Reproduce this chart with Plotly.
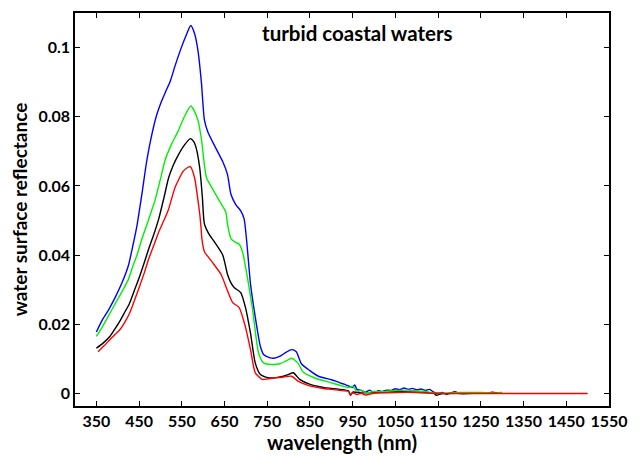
import plotly.graph_objects as go

# ---- data ----
blue_wl = [350, 365, 380, 395, 410, 425, 435, 445, 457, 467, 477, 490, 503, 513, 523, 535, 548, 560, 571,
           580, 588, 596, 603, 611, 626, 646, 657, 665, 676, 688, 696, 711, 722, 734, 742, 755, 765, 780,
           795, 807, 818, 830, 849, 870, 900, 910, 920, 930, 940, 950, 955, 960, 970, 980, 990, 1000, 1010,
           1020, 1030, 1040, 1050, 1060, 1070, 1080, 1090, 1100, 1110, 1120, 1130, 1140, 1150, 1160, 1170,
           1180, 1190, 1200, 1250, 1300]
blue_r = [0.0178, 0.0215, 0.0245, 0.0280, 0.0320, 0.0370, 0.0425, 0.0485, 0.0580, 0.0665, 0.0732, 0.0800,
          0.0846, 0.0875, 0.0903, 0.0950, 0.0997, 0.1035, 0.1064, 0.1040, 0.0990, 0.0898, 0.0790, 0.0756,
          0.0718, 0.0670, 0.0633, 0.0576, 0.0547, 0.0528, 0.0504, 0.0315, 0.0221, 0.0136, 0.0112, 0.0104,
          0.0102, 0.0108, 0.0120, 0.0127, 0.0121, 0.0086, 0.0067, 0.0050, 0.0040, 0.0036, 0.0031, 0.0027,
          0.0022, 0.0018, 0.0025, 0.0012, 0.0009, 0.0004, 0.0010, 0.0002, 0.0008, 0.0006, 0.0010, 0.0009,
          0.0014, 0.0011, 0.0016, 0.0012, 0.0015, 0.0011, 0.0013, 0.0009, 0.0012, 0.0004, 0.0001, 0.0003,
          -0.0003, 0.0002, 0.0005, 0.0000, 0.0001, 0.0001]

black_wl = [350, 365, 381, 395, 404, 415, 427, 438, 450, 462, 473, 485, 496, 508, 519, 530, 542, 556, 570,
            578, 584, 592, 598, 603, 614, 626, 646, 657, 665, 673, 688, 699, 711, 722, 734, 745, 757, 772,
            788, 800, 811, 826, 849, 884, 900, 920, 940, 945, 950, 970, 1000, 1050, 1100, 1140, 1145, 1160,
            1200, 1270, 1275, 1290]
black_r = [0.0131, 0.0145, 0.0164, 0.0190, 0.0207, 0.0232, 0.0259, 0.0295, 0.0334, 0.0378, 0.0420, 0.0462,
           0.0505, 0.0565, 0.0623, 0.0660, 0.0690, 0.0718, 0.0737, 0.0728, 0.0708, 0.0652, 0.0570, 0.0490,
           0.0460, 0.0439, 0.0400, 0.0344, 0.0320, 0.0306, 0.0292, 0.0249, 0.0173, 0.0088, 0.0055, 0.0048,
           0.0045, 0.0046, 0.0050, 0.0055, 0.0060, 0.0041, 0.0027, 0.0017, 0.0015, 0.0012, 0.0008, -0.0005,
           0.0004, 0.0002, 0.0003, 0.0005, 0.0004, 0.0001, -0.0005, 0.0000, 0.0001, 0.0001, 0.0004, 0.0001]

green_wl = [350, 365, 380, 395, 411, 425, 434, 445, 457, 473, 488, 500, 511, 525, 542, 556, 571, 580, 588,
            596, 603, 608, 619, 638, 653, 657, 665, 676, 684, 692, 703, 715, 730, 742, 760, 780, 795, 807,
            822, 834, 861, 900, 920, 940, 950, 960, 970, 980, 1000, 1020, 1040, 1060, 1080, 1100, 1120,
            1140, 1160, 1200, 1250, 1290, 1300]
green_r = [0.0165, 0.0195, 0.0228, 0.0262, 0.0297, 0.0330, 0.0363, 0.0400, 0.0448, 0.0505, 0.0562, 0.0620,
           0.0675, 0.0718, 0.0760, 0.0800, 0.0831, 0.0815, 0.0789, 0.0735, 0.0660, 0.0623, 0.0598, 0.0557,
           0.0525, 0.0490, 0.0448, 0.0437, 0.0432, 0.0410, 0.0340, 0.0249, 0.0116, 0.0088, 0.0084, 0.0086,
           0.0095, 0.0102, 0.0088, 0.0062, 0.0045, 0.0031, 0.0024, 0.0017, 0.0021, 0.0006, 0.0010, 0.0002,
           0.0006, 0.0005, 0.0008, 0.0009, 0.0010, 0.0008, 0.0006, 0.0002, 0.0001, 0.0003, 0.0003, 0.0002,
           0.0004]

red_wl = [354, 368, 381, 395, 404, 415, 427, 438, 450, 462, 473, 485, 496, 508, 519, 534, 553, 562, 570,
          580, 588, 592, 595, 597, 603, 613, 623, 642, 657, 669, 684, 699, 711, 722, 738, 750, 765, 785,
          807, 822, 849, 884, 900, 920, 940, 945, 950, 960, 970, 980, 1000, 1050, 1100, 1150, 1200, 1300,
          1500]
red_r = [0.0121, 0.0138, 0.0155, 0.0172, 0.0183, 0.0203, 0.0230, 0.0265, 0.0306, 0.0348, 0.0391, 0.0430,
         0.0467, 0.0500, 0.0533, 0.0595, 0.0642, 0.0652, 0.0656, 0.0623, 0.0557, 0.0519, 0.0480, 0.0448,
         0.0410, 0.0393, 0.0377, 0.0344, 0.0297, 0.0263, 0.0249, 0.0192, 0.0126, 0.0060, 0.0041, 0.0042,
         0.0045, 0.0047, 0.0050, 0.0036, 0.0022, 0.0014, 0.0012, 0.0009, 0.0006, -0.0004, 0.0002, -0.0003,
         0.0001, -0.0004, 0.0001, 0.0003, 0.0003, 0.0000, 0.0000, 0.0000, 0.0000]

x_ticks = [350, 450, 550, 650, 750, 850, 950, 1050, 1150, 1250, 1350, 1450, 1550]
y_ticks = [0, 0.02, 0.04, 0.06, 0.08, 0.1]
y_tick_labels = ["0", "0.02", "0.04", "0.06", "0.08", "0.1"]

FONT = "Lato"

fig = go.Figure()
series = [
    (blue_wl, blue_r, "#0000ff"),
    (black_wl, black_r, "#000000"),
    (green_wl, green_r, "#00f000"),
    (red_wl, red_r, "#ff0000"),
]
for wl, r, col in series:
    fig.add_trace(go.Scatter(x=wl, y=r, mode="lines",
                             line=dict(color=col, width=1.4, shape="spline", smoothing=0.6),
                             showlegend=False, hoverinfo="skip"))

axis_common = dict(showline=True, linecolor="black", linewidth=1.5, mirror="ticks",
                   ticks="inside", ticklen=5, tickwidth=1.2, tickcolor="black",
                   showgrid=False, zeroline=False)

fig.update_xaxes(range=[300, 1550], tickvals=x_ticks,
                 tickfont=dict(family=FONT, size=16, color="black", weight="bold"),
                 title=dict(text="wavelength (nm)", standoff=1,
                            font=dict(family=FONT, size=20.5, color="black", weight="bold")),
                 **axis_common)
fig.update_yaxes(range=[-0.0036, 0.11], tickvals=y_ticks, ticktext=y_tick_labels,
                 tickfont=dict(family=FONT, size=16, color="black", weight="bold"),
                 title=dict(text="water surface reflectance", standoff=6,
                            font=dict(family=FONT, size=19, color="black", weight="bold")),
                 **axis_common)

fig.add_annotation(text="turbid coastal waters", xref="paper", yref="paper",
                   x=0.5285, y=0.95, showarrow=False, xanchor="center", yanchor="middle",
                   font=dict(family=FONT, size=20.5, color="black", weight="bold"))

fig.update_layout(width=639, height=456, margin=dict(l=75, r=21, t=11, b=46),
                  plot_bgcolor="white", paper_bgcolor="white")

fig.write_html("out.html", config={"displayModeBar": False},
               post_script=("document.documentElement.style.margin='0';"
                            "document.documentElement.style.overflow='hidden';"
                            "document.body.style.margin='0';document.body.style.padding='0';"
                            "document.body.style.overflow='hidden';"))
